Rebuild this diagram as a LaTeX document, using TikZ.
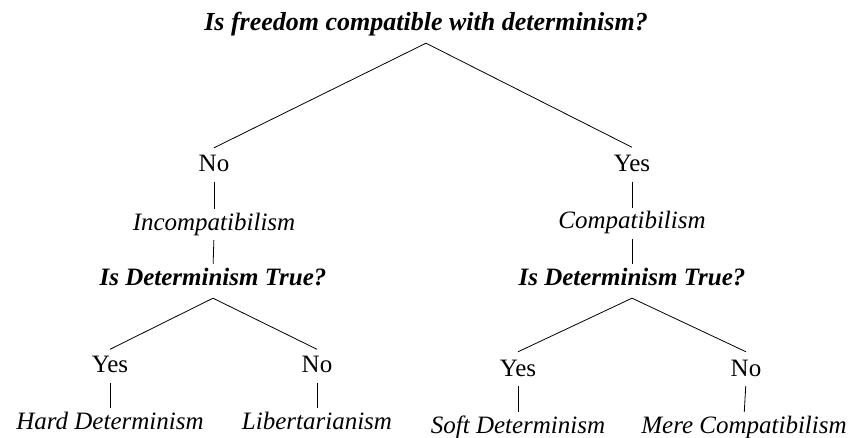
\documentclass[tikz,border=0pt]{standalone}
\usepackage{fontspec}
\setmainfont{Liberation Serif}
\begin{document}
\begin{tikzpicture}[x=1pt,y=-1pt,
  lbl/.style={inner xsep=0pt,inner ysep=0pt,text height=16pt,text depth=5pt,anchor=base,font=\fontsize{25}{30}\selectfont},
  ital/.style={lbl,font=\fontsize{25}{30}\selectfont\itshape},
  quest/.style={lbl,font=\fontsize{25}{30}\selectfont\bfseries\itshape},
  edge/.style={line width=0.8pt},
  vedge/.style={edge,shorten <=5pt,shorten >=5pt}]
\useasboundingbox (0,0) rectangle (853,438);
% top
\node[quest,font=\fontsize{26}{30}\selectfont\bfseries\itshape] (q0) at (426,30.5) {Is freedom compatible with determinism?};
\node[lbl] (no1) at (214,171.5) {No};
\node[lbl] (yes1) at (632,171.5) {Yes};
\draw[edge] ([yshift=7.5pt]no1.north) -- ([yshift=-7.5pt]q0.south) -- ([yshift=8pt]yes1.north);
% left subtree
\node[ital] (inc) at (214,230) {Incompatibilism};
\node[quest] (q1) at (213,285) {Is Determinism True?};
\node[lbl] (yes2) at (110,372.5) {Yes};
\node[lbl] (no2) at (317,372.5) {No};
\node[ital] (hard) at (110,429) {Hard Determinism};
\node[ital] (lib) at (317,429) {Libertarianism};
\draw[vedge] (no1.south) -- (inc.north);
\draw[vedge] (inc.south) -- (q1.north);
\draw[edge] ([yshift=7pt]yes2.north) -- ([yshift=-8pt]q1.south) -- ([yshift=7pt]no2.north);
\draw[vedge] (yes2.south) -- (hard.north);
\draw[vedge] (no2.south) -- (lib.north);
% right subtree
\node[ital] (com) at (632,229) {Compatibilism};
\node[quest] (q2) at (632,285) {Is Determinism True?};
\node[lbl] (yes3) at (518,376) {Yes};
\node[lbl] (no3) at (746,376) {No};
\node[ital] (soft) at (518,433) {Soft Determinism};
\node[ital] (mere) at (744,433) {Mere Compatibilism};
\draw[vedge] (yes1.south) -- (com.north);
\draw[vedge] (com.south) -- (q2.north);
\draw[edge] ([yshift=8pt]yes3.north) -- ([yshift=-8pt]q2.south) -- ([yshift=8pt]no3.north);
\draw[vedge] (yes3.south) -- (soft.north);
\draw[vedge] (no3.south) -- (mere.north);
\end{tikzpicture}
\end{document}
